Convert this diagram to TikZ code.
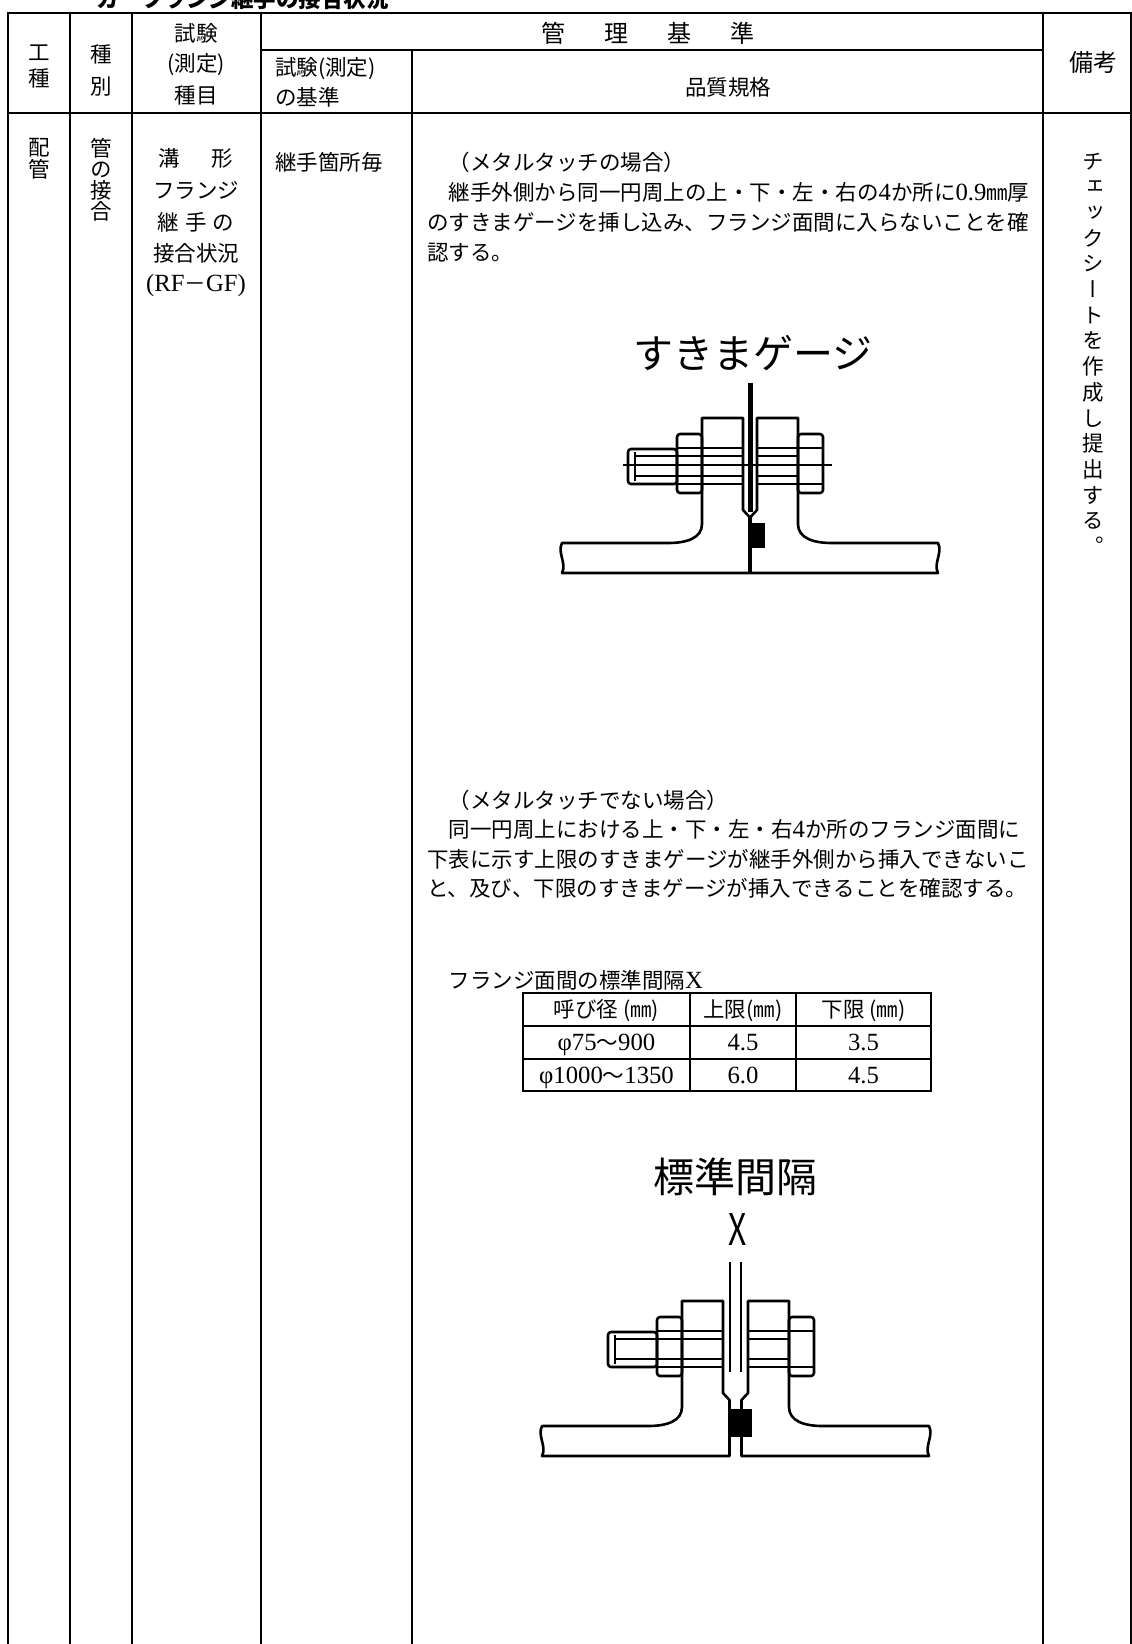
\documentclass[tikz,border=0pt]{standalone}
\usepackage{fontspec}
\usepackage{graphicx}
\setmainfont{Liberation Serif}[Scale=1.15]
\newfontfamily\jp{Noto Sans CJK JP}
\newfontfamily\jpv[RawFeature=+vert]{Noto Sans CJK JP}

% #1 half gap at the flange faces, #2 half gap at the gasket
\newcommand{\flangejoint}[2]{%
  \draw[pipeline] (-#1,92) -- (-#1,0) -- ({-#1-41},0) -- ({-#1-41},106)
    .. controls ({-#1-41},120) and ({-#1-56},125) .. ({-#1-75},125)
    -- ({-#1-181},125) .. controls ({-#1-186},135) and ({-#1-176},145) .. ({-#1-181},155)
    -- (-#2,155) -- (-#2,99) -- cycle;
  \draw[pipeline] (#1,92) -- (#1,0) -- ({#1+41},0) -- ({#1+41},106)
    .. controls ({#1+41},120) and ({#1+56},125) .. ({#1+75},125)
    -- ({#1+181},125) .. controls ({#1+186},135) and ({#1+176},145) .. ({#1+181},155)
    -- (#2,155) -- (#2,99) -- cycle;
  \draw[pipeline, rounded corners=3pt] ({-#1-66},16) rectangle ({-#1-41},75);
  \draw[pipeline, rounded corners=3pt] ({#1+41},16) rectangle ({#1+66},75);
  \draw[pipeline, rounded corners=3pt] ({-#1-115},31) rectangle ({-#1-66},66);
  \draw[thread] ({-#1-108},34) -- ({-#1-108},63);
  \draw[pipeline] ({-#1-66},30) -- (-#1,30) ({-#1-66},66) -- (-#1,66)
                  (#1,30) -- ({#1+66},30) (#1,66) -- ({#1+66},66);
  \draw[thread] ({-#1-108},38) -- (-#1,38) ({-#1-108},58) -- (-#1,58)
                (#1,38) -- ({#1+41},38) (#1,58) -- ({#1+41},58);
}

\tikzset{
  rule/.style={line width=2pt, line cap=rect},
  pipeline/.style={line width=2.6pt, line join=round},
  thread/.style={line width=1.3pt},
  txt/.style={inner sep=0pt, anchor=base west, font=\jp\fontsize{21.5}{30}\selectfont},
  ctxt/.style={txt, anchor=base},
  vtxt/.style={inner sep=0pt, anchor=base, font=\jpv\fontsize{21.5}{30}\selectfont},
  bigtxt/.style={ctxt, font=\jp\fontsize{24}{30}\selectfont},
  lbl/.style={inner sep=0pt, anchor=base, font=\jp\fontsize{40}{40}\selectfont}
}

\begin{document}
\begin{tikzpicture}[x=1pt, y=-1pt]
  \useasboundingbox (0,0) rectangle (1132,1644);
  \node[txt, font=\jp\bfseries\fontsize{22.5}{30}\selectfont] (title) at (96,7) {カ　フランジ継手の接合状況};

  % frame
  \draw[rule] (8,13) -- (1131,13);
  \draw[rule] (261,50) -- (1043,50);
  \draw[rule] (8,113) -- (1131,113);
  \foreach \x in {8,70,132,261,1043,1131}
    \draw[rule] (\x,13) -- (\x,1644);
  \draw[rule] (412,50) -- (412,1644);

  % header
  \node[ctxt] (hk1) at (39,60) {工};
  \node[ctxt] (hk2) at (39,86) {種};
  \node[ctxt] (hs1) at (101,62) {種};
  \node[ctxt] (hs2) at (101,94) {別};
  \node[ctxt] (ht1) at (196,41) {試験};
  \node[ctxt] (ht2) at (196,71) {(測定)};
  \node[ctxt] (ht3) at (196,103) {種目};
  \node[txt] (hc1) at (275,75) {試験(測定)};
  \node[txt] (hc2) at (275,105) {の基準};
  \node[bigtxt] (hm) at (648,42) {管\hspace{39pt}理\hspace{39pt}基\hspace{39pt}準};
  \node[ctxt] (hq) at (728,95) {品質規格};
  \node[bigtxt] (hb) at (1093,71) {備考};

  % left columns
  \foreach \c [count=\i] in {配,管}
    \node[vtxt] (kind\i) at (39,{155.5+21.5*(\i-1)}) {\c};
  \foreach \c [count=\i] in {管,の,接,合}
    \node[vtxt] (sort\i) at (101,{156+21.3*(\i-1)}) {\c};
  \node[ctxt] (it1) at (196,166) {溝\hspace{32pt}形};
  \node[ctxt] (it2) at (196,198) {フランジ};
  \node[ctxt] (it3) at (196,230) {継\hspace{6pt}手\hspace{6pt}の};
  \node[ctxt] (it4) at (196,261) {接合状況};
  \node[ctxt] (it5) at (196,291) {{\rmfamily (RF}－{\rmfamily GF)}};
  \node[txt] (freq) at (275,170) {継手箇所毎};

  % metal touch
  \foreach \ln [count=\i] in {{　（メタルタッチの場合）},
      {　継手外側から同一円周上の上・下・左・右の{\rmfamily 4}か所に{\rmfamily 0.9}㎜厚},
      {のすきまゲージを挿し込み、フランジ面間に入らないことを確},
      {認する。}}
    \node[txt] (mt\i) at (427,{170+30*(\i-1)}) {\ln};
  \node[lbl] (gaugelbl) at (753,368) {すきまゲージ};
  \begin{scope}[shift={(750,418)}]
    \flangejoint{7}{0.5}
    \fill (-2.5,-35) rectangle (2.5,94);
    \fill (2,105) rectangle (15,130);
    \draw[thread] (-127,47) -- (82,47);
  \end{scope}

  % no metal touch
  \foreach \ln [count=\i] in {{　（メタルタッチでない場合）},
      {　同一円周上における上・下・左・右{\rmfamily 4}か所のフランジ面間に},
      {下表に示す上限のすきまゲージが継手外側から挿入できないこ},
      {と、及び、下限のすきまゲージが挿入できることを確認する。}}
    \node[txt] (nt\i) at (427,{808+29.5*(\i-1)}) {\ln};
  \node[txt] (cap) at (427,988) {　フランジ面間の標準間隔{\rmfamily X}};
  \draw[rule] (523,993) rectangle (931,1091);
  \foreach \y in {1026,1059}
    \draw[rule] (523,\y) -- (931,\y);
  \foreach \x in {690,796}
    \draw[rule] (\x,993) -- (\x,1091);
  \node[ctxt] (c11) at (606.5,1017.5) {呼び径 (㎜)};
  \node[ctxt] (c12) at (743,1017.5) {上限(㎜)};
  \node[ctxt] (c13) at (863.5,1017.5) {下限 (㎜)};
  \node[ctxt] (c21) at (606.5,1050.5) {{\rmfamily φ75}〜{\rmfamily 900}};
  \node[ctxt] (c22) at (743,1050.5) {\rmfamily 4.5};
  \node[ctxt] (c23) at (863.5,1050.5) {\rmfamily 3.5};
  \node[ctxt] (c31) at (606.5,1083) {{\rmfamily φ1000}〜{\rmfamily 1350}};
  \node[ctxt] (c32) at (743,1083) {\rmfamily 6.0};
  \node[ctxt] (c33) at (863.5,1083) {\rmfamily 4.5};
  \node[lbl, font=\jp\fontsize{41}{41}\selectfont] (gaplbl) at (735,1192.5) {標準間隔};
  \node[lbl, font=\jp\fontsize{43.6}{44}\selectfont] (gapx) at (737.5,1245) {\scalebox{0.73}[1]{X}};
  \begin{scope}[shift={(735.5,1301)}]
    \flangejoint{12.5}{6}
    \fill (-6,108) rectangle (16,136);
    \draw[thread] (-5.5,-39) -- (-5.5,71) (5.5,-39) -- (5.5,71);
  \end{scope}

  % remarks
  \foreach \c [count=\i] in {チ,ェ,ッ,ク,シ,ー,ト,を,作,成,し,提,出,す,る,。}
    \node[vtxt] (note\i) at (1093,{169+25.7*(\i-1)}) {\c};
\end{tikzpicture}
\end{document}
